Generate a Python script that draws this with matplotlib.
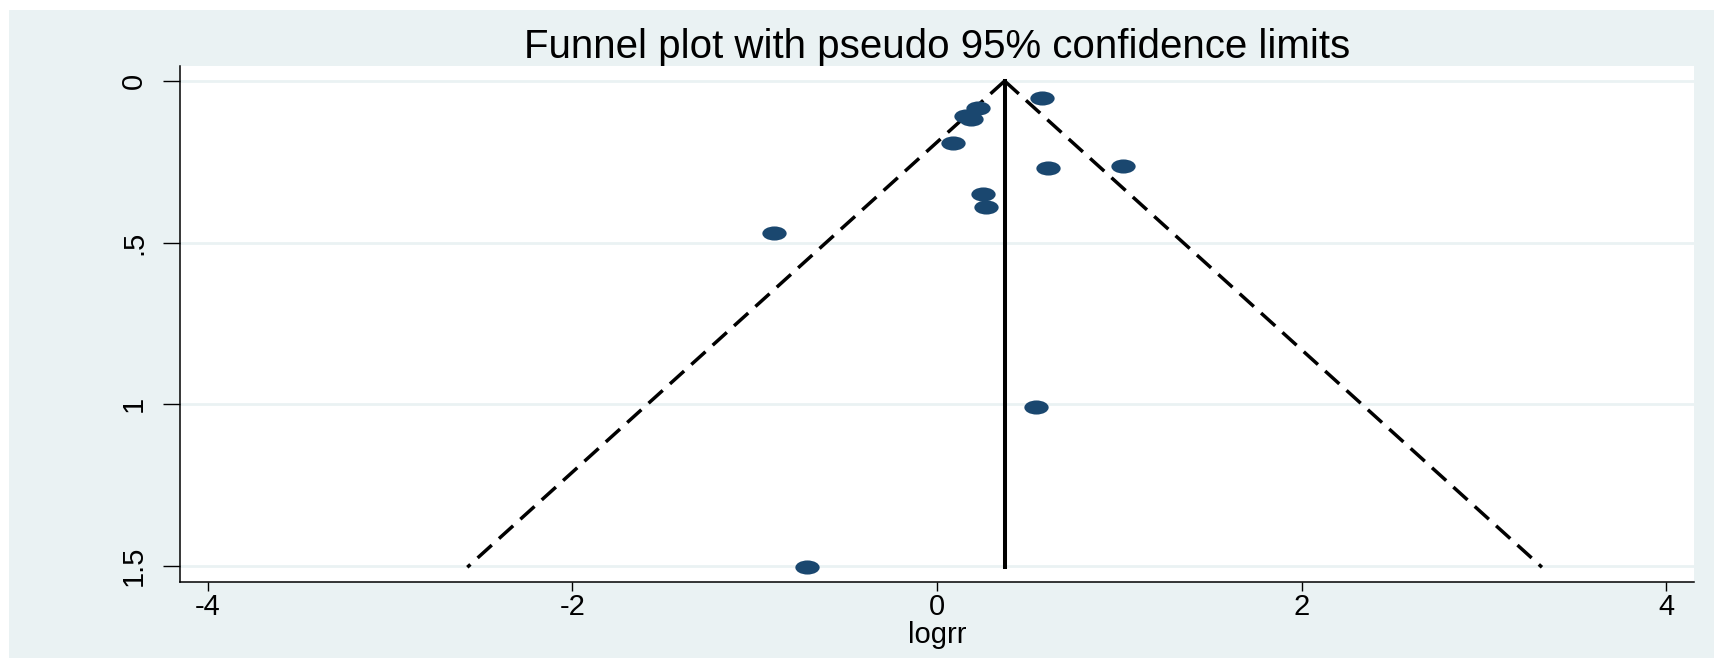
import numpy as np
import matplotlib
matplotlib.use('agg')
import matplotlib.pyplot as plt
from matplotlib.path import Path
from matplotlib.transforms import Affine2D
from matplotlib.patches import Rectangle

plt.rcParams['font.family'] = ['Liberation Sans', 'DejaVu Sans']

# study estimates (log relative risk) and their standard errors
logrr = [0.576, 0.223, 0.161, 0.189, 0.090, 1.019, 0.607, 0.254, 0.269, -0.894, 0.543, -0.715]
se_logrr = [0.054, 0.082, 0.108, 0.118, 0.191, 0.262, 0.268, 0.349, 0.390, 0.469, 1.008, 1.504]
pooled = 0.371

x_ticks = [-4, -2, 0, 2, 4]
y_ticks = [0, 0.5, 1, 1.5]
y_ticklabels = ['0', '.5', '1', '1.5']

bg = '#eaf2f3'
navy = '#1a476f'

W, H = 1722, 666
fig = plt.figure(figsize=(W / 100, H / 100), dpi=100)
fig.patch.set_facecolor('white')
# shaded graph region behind the plot area
fig.patches.append(Rectangle((9 / W, 8 / H), (1714 - 9) / W, (656 - 8) / H,
                             transform=fig.transFigure, facecolor=bg,
                             edgecolor='none', zorder=-1))

ax = fig.add_axes([180 / W, (H - 582) / H, (1694 - 180) / W, (582 - 66) / H])
ax.set_facecolor('white')

# pseudo 95% confidence limits around the pooled estimate
se_line = np.array([0, max(se_logrr)])
for sign in (-1, 1):
    ax.plot(pooled + sign * 1.96 * se_line, se_line, color='black', lw=2.5,
            dashes=(5.5, 2.8), dash_capstyle='butt', zorder=2)
ax.plot([pooled, pooled], se_line, color='black', lw=2.9, zorder=2)

oval = Path.unit_circle().transformed(Affine2D().scale(1, 0.58))
ax.plot(logrr, se_logrr, linestyle='none', marker=oval, ms=17.5,
        color=navy, markeredgewidth=0, zorder=3)

ax.set_xlim(-4.153, 4.153)
ax.set_ylim(1.5496, -0.0464)

ax.set_xticks(x_ticks)
ax.set_xticklabels([str(t) for t in x_ticks])
ax.set_yticks(y_ticks)
ax.set_yticklabels(y_ticklabels, rotation=90, va='center')

ax.grid(axis='y', color=bg, lw=2)
ax.set_axisbelow(True)

for s in ['top', 'right']:
    ax.spines[s].set_visible(False)
for s in ['left', 'bottom']:
    ax.spines[s].set_linewidth(1.1)

ax.tick_params(axis='x', length=6.5, width=1, pad=1.5, labelsize=21)
ax.tick_params(axis='y', length=12, width=1, pad=11, labelsize=21)

ax.set_xlabel('logrr', fontsize=21, labelpad=0)
ax.set_title('Funnel plot with pseudo 95% confidence limits', fontsize=29, pad=4)

fig.savefig('out.png', dpi=100, facecolor=fig.get_facecolor())
